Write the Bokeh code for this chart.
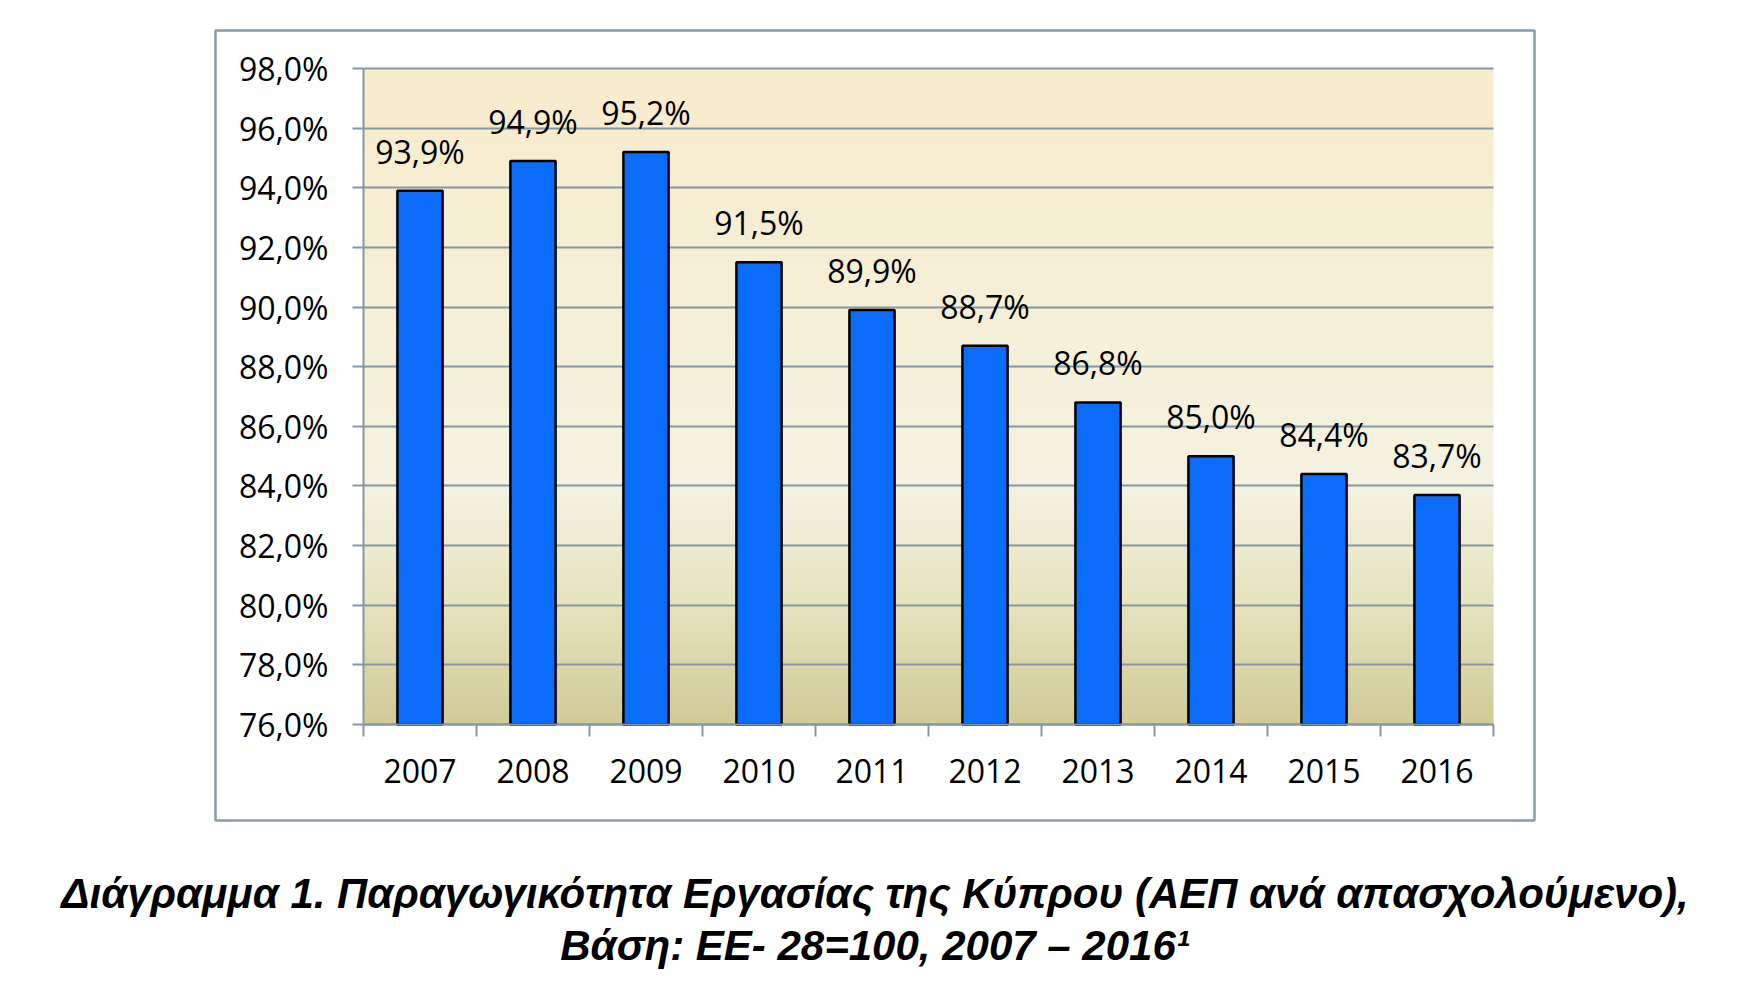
import numpy as np
from bokeh.plotting import figure
from bokeh.models import ColumnDataSource, LabelSet, FixedTicker, Title, Grid
from bokeh.core.properties import value
from bokeh.embed import file_html
from bokeh.resources import INLINE

# ---- data ----
years = [2007, 2008, 2009, 2010, 2011, 2012, 2013, 2014, 2015, 2016]
values = [93.9, 94.9, 95.2, 91.5, 89.9, 88.7, 86.8, 85.0, 84.4, 83.7]
value_labels = ["93,9%", "94,9%", "95,2%", "91,5%", "89,9%", "88,7%", "86,8%", "85,0%", "84,4%", "83,7%"]
year_labels = ["2007", "2008", "2009", "2010", "2011", "2012", "2013", "2014", "2015", "2016"]
y_ticks = [76, 78, 80, 82, 84, 86, 88, 90, 92, 94, 96, 98]
y_tick_labels = ["76,0%", "78,0%", "80,0%", "82,0%", "84,0%", "86,0%", "88,0%",
                 "90,0%", "92,0%", "94,0%", "96,0%", "98,0%"]
caption_line1 = "Διάγραμμα 1. Παραγωγικότητα Εργασίας της Κύπρου (ΑΕΠ ανά απασχολούμενο),"
caption_line2 = "Βάση: ΕΕ- 28=100, 2007 – 2016¹"

# ---- style / geometry (pixels) ----
GRID = "#8497A3"
FRAME = "#8C9BA5"
BAR = "#0B6CFA"
FONT = "Open Sans"
CAP_FONT = "Liberation Sans"
FS = "32px"
W, H = 1739, 1007
BOX_L, BOX_T, BOX_R, BOX_B = 215, 30, 1534, 820      # outer chart box
PA_L, PA_T, PA_R, PA_B = 363, 68, 1493, 724          # plot area

x0, x1 = years[0] - 0.5, years[-1] + 0.5
y0, y1 = y_ticks[0], y_ticks[-1]
sx = (PA_R - PA_L) / (x1 - x0)
sy = (PA_B - PA_T) / (y1 - y0)
x_range = (x0 - (PA_L - BOX_L) / sx, x1 + (BOX_R - PA_R) / sx)
y_range = (y0 - (BOX_B - PA_B) / sy, y1 + (PA_T - BOX_T) / sy)

src = ColumnDataSource(dict(year=years, value=values, label=value_labels))

p = figure(width=W, height=H, x_range=x_range, y_range=y_range,
           output_backend="svg", toolbar_location=None,
           min_border_left=BOX_L, min_border_right=W - BOX_R,
           min_border_top=BOX_T, min_border_bottom=H - BOX_B)
p.outline_line_color = FRAME
p.outline_line_width = 2.5
p.background_fill_color = "white"
p.border_fill_color = "white"

# gradient background of plot area
stops_t = [0.0, 0.18, 0.36, 0.6, 1.0]
stops_c = [(209, 203, 152), (230, 227, 190), (244, 242, 226), (246, 240, 216), (248, 236, 203)]
N = 330
t = np.linspace(0, 1, N)
img = np.empty((N, 1), dtype=np.uint32)
view = img.view(dtype=np.uint8).reshape((N, 1, 4))
for k in range(3):
    view[:, 0, k] = np.interp(t, stops_t, [c[k] for c in stops_c]).astype(np.uint8)
view[:, 0, 3] = 255
p.image_rgba(image=[img], x=x0, y=y0, dw=x1 - x0, dh=y1 - y0, level="image")

# bars
p.vbar(x="year", top="value", bottom=y0, width=0.4, source=src,
       fill_color=BAR, line_color="black", line_width=2.5)

# data labels
p.add_layout(LabelSet(x="year", y="value", text="label", source=src, text_align="center",
                      text_baseline="alphabetic", y_offset=27, text_font=value(FONT),
                      text_font_size=FS, text_color="black"))

# grid
p.xgrid.grid_line_color = None
if "cross_bounds" in Grid.properties():
    p.ygrid.ticker = FixedTicker(ticks=y_ticks)
    p.ygrid.grid_line_color = GRID
    p.ygrid.grid_line_width = 2
    p.ygrid.bounds = (y0, y1)
    p.ygrid.cross_bounds = (x0, x1)
else:
    p.ygrid.grid_line_color = None
    p.segment(x0=[x0] * len(y_ticks), y0=y_ticks, x1=[x1] * len(y_ticks), y1=y_ticks,
              line_color=GRID, line_width=2, level="underlay")

# y axis
p.yaxis.fixed_location = x0
p.yaxis.bounds = (y0, y1)
p.yaxis.ticker = FixedTicker(ticks=y_ticks)
p.yaxis.major_label_overrides = dict(zip(y_ticks, y_tick_labels))
p.yaxis.axis_line_color = GRID
p.yaxis.axis_line_width = 2
p.yaxis.major_tick_line_color = GRID
p.yaxis.major_tick_line_width = 2
p.yaxis.major_tick_in = 0
p.yaxis.major_tick_out = 11
p.yaxis.minor_tick_line_color = None
p.yaxis.major_label_standoff = 24
p.yaxis.major_label_text_font = FONT
p.yaxis.major_label_text_font_size = FS
p.yaxis.major_label_text_color = "black"

# x axis
p.xaxis.fixed_location = y0
p.xaxis.bounds = (x0, x1)
p.xaxis.ticker = FixedTicker(ticks=years, minor_ticks=[y - 0.5 for y in years] + [x1])
p.xaxis.major_label_overrides = dict(zip(years, year_labels))
p.xaxis.axis_line_color = GRID
p.xaxis.axis_line_width = 2
p.xaxis.major_tick_line_color = None
p.xaxis.major_tick_in = 0
p.xaxis.major_tick_out = 12
p.xaxis.minor_tick_line_color = GRID
p.xaxis.minor_tick_line_width = 2
p.xaxis.minor_tick_in = 0
p.xaxis.minor_tick_out = 12
p.xaxis.major_label_standoff = 22
p.xaxis.major_label_text_font = FONT
p.xaxis.major_label_text_font_size = FS
p.xaxis.major_label_text_color = "black"

# caption (two title lines below the chart box, after a small spacer)
spacer = Title(text=" ", text_font_size="1px", standoff=42)
t1 = Title(text=caption_line1, align="center", text_font=CAP_FONT, text_font_style="bold italic",
           text_font_size="42px", text_color="black", standoff=4)
t2 = Title(text=caption_line2, align="center", text_font=CAP_FONT, text_font_style="bold italic",
           text_font_size="42px", text_color="black", standoff=2)
p.add_layout(spacer, "below")
p.add_layout(t1, "below")
p.add_layout(t2, "below")

open("out.html", "w").write(file_html(p, INLINE))
